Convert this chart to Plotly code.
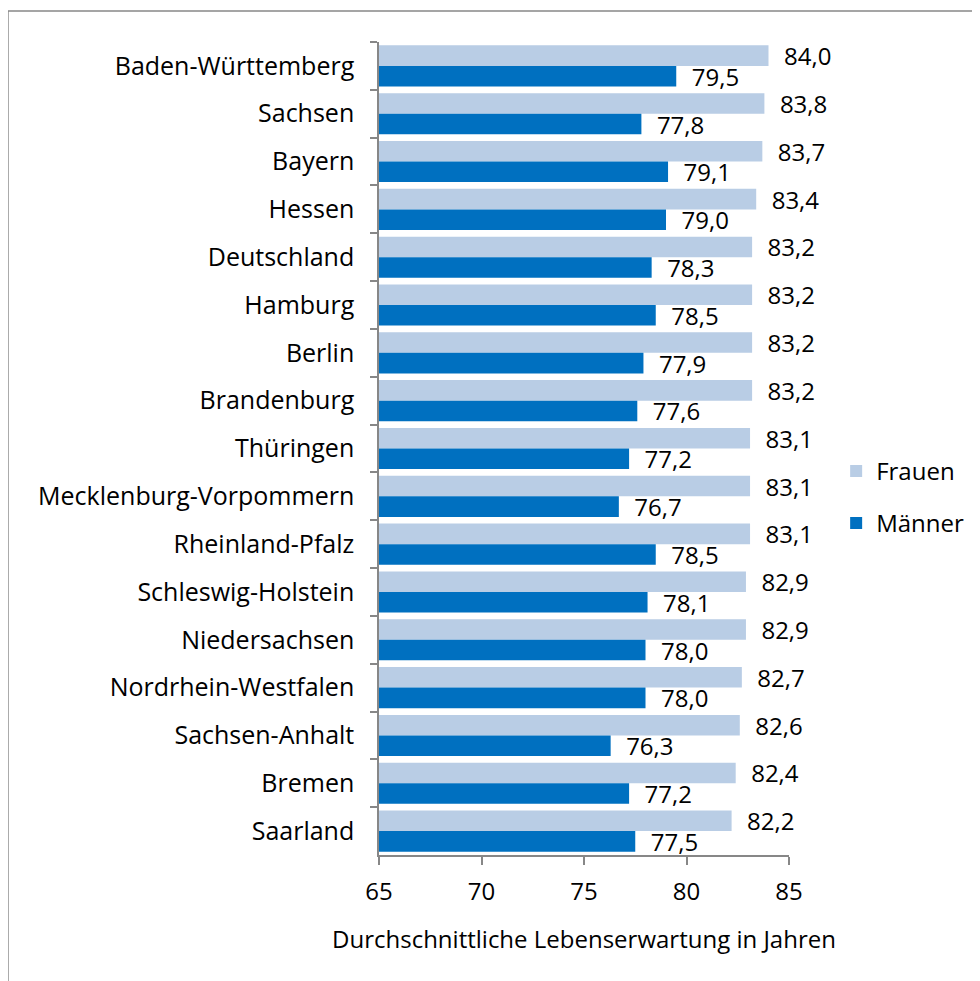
import plotly.graph_objects as go

# ── Data ───────────────────────────────────────────────────────────────────────
laender = [
    "Baden-Württemberg", "Sachsen", "Bayern", "Hessen", "Deutschland",
    "Hamburg", "Berlin", "Brandenburg", "Thüringen", "Mecklenburg-Vorpommern",
    "Rheinland-Pfalz", "Schleswig-Holstein", "Niedersachsen",
    "Nordrhein-Westfalen", "Sachsen-Anhalt", "Bremen", "Saarland",
]
frauen = [84.0, 83.8, 83.7, 83.4, 83.2, 83.2, 83.2, 83.2, 83.1, 83.1,
          83.1, 82.9, 82.9, 82.7, 82.6, 82.4, 82.2]
maenner = [79.5, 77.8, 79.1, 79.0, 78.3, 78.5, 77.9, 77.6, 77.2, 76.7,
           78.5, 78.1, 78.0, 78.0, 76.3, 77.2, 77.5]
x_ticks = [65, 70, 75, 80, 85]

FONT = "'Open Sans', Lato, sans-serif"
FS = 25
AXIS_GREY = "#878787"

fig = go.Figure()

for name, vals, color in [("Frauen", frauen, "#B9CDE5"), ("Männer", maenner, "#0070C0")]:
    fig.add_trace(go.Bar(
        y=laender, x=vals,
        orientation="h", name=name, legendgroup=name,
        marker=dict(color=color, line=dict(width=0)),
        # leading spaces push the value label away from the bar end
        text=["  " + f"{v:.1f}".replace(".", ",") for v in vals],
        textposition="outside", constraintext="none",
        textfont=dict(family=FONT, size=FS - 1, color="#000000"),
        cliponaxis=False,
    ))

# page body adds an 8px offset, margins below are already corrected for it
fig.update_layout(
    width=980, height=981,
    margin=dict(l=371, r=199, t=34, b=134),
    paper_bgcolor="white", plot_bgcolor="white",
    barmode="group", bargap=0.14, bargroupgap=0.0,
    font=dict(family=FONT, size=FS, color="#000000"),
    legend=dict(
        x=1.115, y=0.44, xanchor="left", yanchor="middle",
        font=dict(family=FONT, size=FS - 1, color="#000000"),
        itemwidth=30, tracegroupgap=18, traceorder="grouped",
    ),
    showlegend=True,
)

fig.update_xaxes(
    range=[65, 85], tickvals=x_ticks,
    showgrid=False, zeroline=False,
    showline=True, linecolor=AXIS_GREY, linewidth=1.5,
    ticks="outside", ticklen=8, tickcolor=AXIS_GREY, tickwidth=1.5,
    ticklabelstandoff=6,
    tickfont=dict(family=FONT, size=FS - 1, color="#000000"),
    title=dict(text="Durchschnittliche Lebenserwartung in Jahren",
               font=dict(family=FONT, size=FS - 1, color="#000000"), standoff=26),
)
fig.update_yaxes(
    autorange="reversed", type="category",
    showgrid=False, zeroline=False,
    showline=True, linecolor=AXIS_GREY, linewidth=1.5,
    ticks="outside", ticklen=7, tickcolor=AXIS_GREY, tickwidth=1.5,
    tickson="boundaries", ticklabelstandoff=18,
    tickfont=dict(family=FONT, size=FS, color="#000000"),
)

# Outer chart frame (Excel-style border)
fig.add_shape(
    type="rect", xref="paper", yref="paper",
    x0=-0.905, x1=1.5, y0=-0.25, y1=1.038,
    line=dict(color="#888888", width=1.5), fillcolor="rgba(0,0,0,0)",
    layer="below",
)

fig.write_html("out.html")
